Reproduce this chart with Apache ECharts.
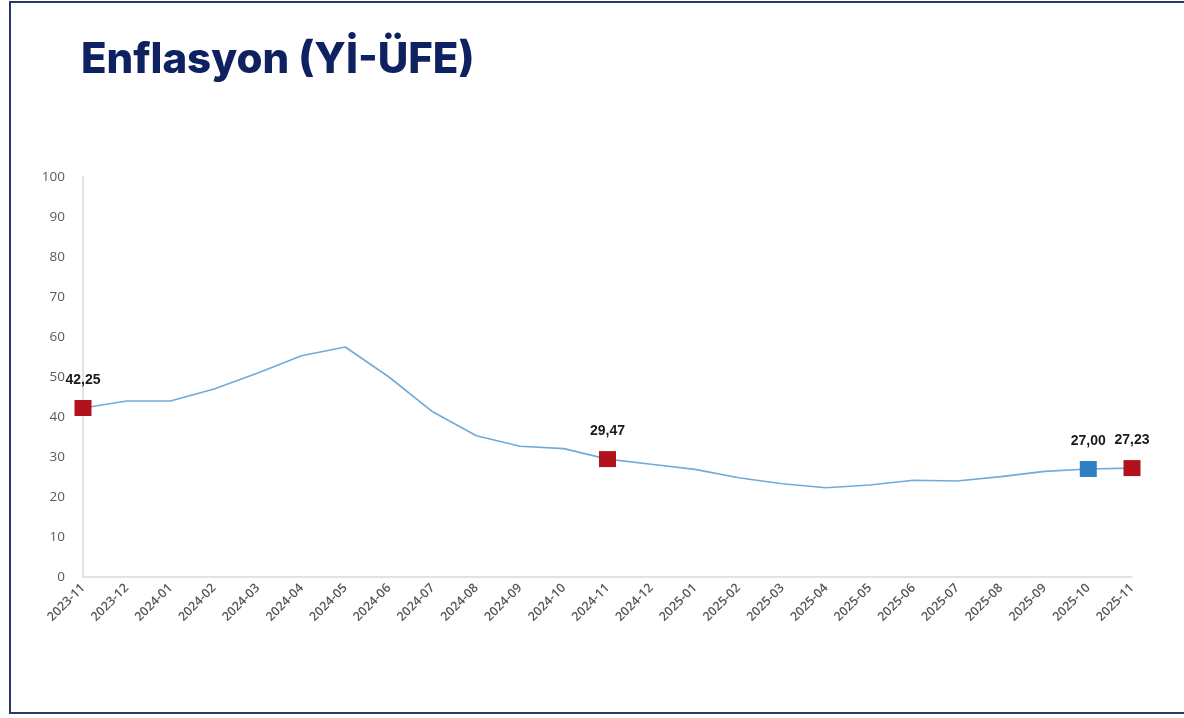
<!DOCTYPE html>
<html>
<head>
<meta charset="utf-8">
<script src="https://cdn.jsdelivr.net/npm/echarts@6/dist/echarts.min.js"></script>
<style>
  html, body { margin: 0; padding: 0; background: #fff; }
  #chart { width: 1184px; height: 718px; }
</style>
</head>
<body>
<div id="chart"></div>
<script>
const months = [
  '2023-11', '2023-12', '2024-01', '2024-02', '2024-03', '2024-04', '2024-05',
  '2024-06', '2024-07', '2024-08', '2024-09', '2024-10', '2024-11', '2024-12',
  '2025-01', '2025-02', '2025-03', '2025-04', '2025-05', '2025-06', '2025-07',
  '2025-08', '2025-09', '2025-10', '2025-11'
]
const ufe = [
  42.25, 44.0, 44.0, 47.0, 51.0, 55.3, 57.5,
  50.0, 41.3, 35.3, 32.7, 32.1, 29.47, 28.2,
  26.9, 24.8, 23.3, 22.3, 23.0, 24.2, 24.0,
  25.1, 26.4, 27.00, 27.23
]
const redMonths = ['2023-11', '2024-11', '2025-11']
const blueMonths = ['2025-10']
const yTicks = [0, 100, 10]  // min, max, interval

const chart = echarts.init(document.getElementById('chart'))

const points = ufe.map((v, i) => {
  const m = months[i]
  const red = redMonths.includes(m)
  const blue = blueMonths.includes(m)
  if (!red && !blue) return { value: v, symbol: 'none' }
  return {
    value: v,
    symbol: 'rect',
    symbolSize: [17, 16],
    itemStyle: { color: red ? '#b3121c' : '#2f80c2' },
    label: {
      show: true,
      position: 'top',
      distance: 13,
      formatter: p => p.value.toFixed(2).replace('.', ','),
      fontFamily: 'Liberation Sans, Arial',
      fontWeight: 'bold',
      fontSize: 14,
      color: '#1a1a1a'
    }
  }
})

chart.setOption({
  animation: false,
  title: {
    text: 'Enflasyon (Yİ-ÜFE)',
    left: 76,
    top: 34,
    textStyle: { fontFamily: 'Inter', fontWeight: 800, fontSize: 42, color: '#0e2160' }
  },
  graphic: [{
    type: 'rect',
    shape: { x: 10, y: 2, width: 1200, height: 711 },
    style: { fill: 'none', stroke: '#2b3766', lineWidth: 2 },
    silent: true
  }],
  grid: { left: 83, right: 52, top: 177, bottom: 141 },
  xAxis: {
    type: 'category',
    data: months,
    boundaryGap: false,
    axisLine: { lineStyle: { color: '#d9d9d9', width: 1.5 } },
    axisTick: { show: false },
    axisLabel: {
      rotate: 45,
      interval: 0,
      margin: 9,
      fontFamily: 'Open Sans',
      fontWeight: 600,
      fontSize: 12.5,
      color: '#555'
    }
  },
  yAxis: {
    type: 'value',
    min: yTicks[0],
    max: yTicks[1],
    interval: yTicks[2],
    axisLine: { show: true, lineStyle: { color: '#d9d9d9', width: 1.5 } },
    axisTick: { show: false },
    splitLine: { show: false },
    axisLabel: { margin: 18, fontFamily: 'Open Sans', fontSize: 13.5, color: '#595959' }
  },
  series: [{
    type: 'line',
    data: points,
    showAllSymbol: true,
    lineStyle: { color: '#72aad8', width: 1.6 },
    z: 3
  }]
})
</script>
</body>
</html>
